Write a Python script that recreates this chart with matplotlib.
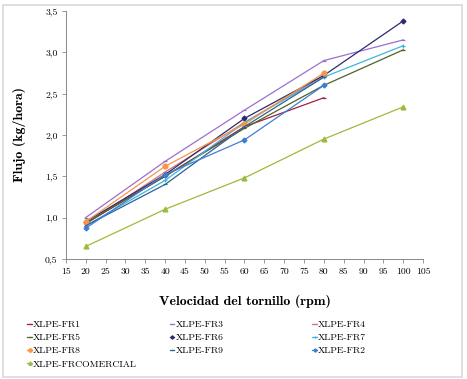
import matplotlib
matplotlib.use("Agg")
import matplotlib.pyplot as plt
from matplotlib.patches import Rectangle

# datos
rpm = [20, 40, 60, 80, 100]
fr1 = [0.93, 1.50, 2.10, 2.45]
fr3 = [1.00, 1.68, 2.30, 2.90, 3.15]
fr4 = [0.92, 1.55, 2.15, 2.72]
fr5 = [0.93, 1.50, 2.08, 2.60, 3.03]
fr6 = [0.95, 1.52, 2.20, 2.72, 3.38]
fr7 = [0.90, 1.45, 2.15, 2.70, 3.08]
fr8 = [0.95, 1.62, 2.13, 2.75]
fr9 = [0.90, 1.40, 2.10, 2.70]
fr2 = [0.87, 1.52, 1.94, 2.60]
comercial = [0.65, 1.10, 1.48, 1.95, 2.34]

series = [
    ("XLPE-FR1", fr1, "#a0213a", "_"),
    ("XLPE-FR3", fr3, "#9b6fcf", "_"),
    ("XLPE-FR4", fr4, "#d9707a", "_"),
    ("XLPE-FR5", fr5, "#4f6228", "_"),
    ("XLPE-FR6", fr6, "#2e2a6e", "D"),
    ("XLPE-FR7", fr7, "#3fb6d8", "+"),
    ("XLPE-FR8", fr8, "#f79646", "o"),
    ("XLPE-FR9", fr9, "#30609a", "_"),
    ("XLPE-FR2", fr2, "#3d7fd6", "D"),
    ("XLPE-FRCOMERCIAL", comercial, "#9bbb3b", "^"),
]

fig = plt.figure(figsize=(4.67, 3.79), dpi=100)
fig.patches.append(Rectangle((0.006, 0.005), 0.984, 0.982, transform=fig.transFigure,
                             fill=False, edgecolor="#d9d9d9", lw=1.2))
ax = fig.add_axes([0.141, 0.317, 0.765, 0.654])

lines = []
for name, vals, col, mk in series:
    ms = {"o": 3.5, "^": 3.5, "D": 2.5}.get(mk, 3)
    l, = ax.plot(rpm[:len(vals)], vals, color=col, lw=0.9, marker=mk, ms=ms,
                 markeredgewidth=0.9, label=name)
    lines.append(l)

ax.set_xlim(15, 105)
ax.set_ylim(0.5, 3.5)
xt = list(range(15, 110, 5))
ax.set_xticks(xt)
ax.set_xticklabels([str(v) for v in xt], fontfamily="cmr10", fontsize=7)
yt = [0.5, 1.0, 1.5, 2.0, 2.5, 3.0, 3.5]
ax.set_yticks(yt)
ax.set_yticklabels([("%.1f" % v).replace(".", ",") for v in yt], fontfamily="cmr10", fontsize=7)
ax.tick_params(length=3, width=0.6, color="#888888", pad=3)
for s in ["top", "right"]:
    ax.spines[s].set_visible(False)
for s in ["left", "bottom"]:
    ax.spines[s].set_color("#888888")
    ax.spines[s].set_linewidth(0.7)

ax.set_xlabel("Velocidad del tornillo (rpm)", fontfamily="cmb10", fontsize=10, labelpad=14)
ax.set_ylabel("Flujo (kg/hora)", fontfamily="cmb10", fontsize=10, labelpad=14)

# leyenda en tres columnas, orden por filas como en el original
cols = [[0, 3, 6, 9], [1, 4, 7], [2, 5, 8]]
xpos = [0.058, 0.363, 0.669]
for idx, x0 in zip(cols, xpos):
    fig.legend([lines[i] for i in idx], [series[i][0] for i in idx],
               loc="upper left", bbox_to_anchor=(x0, 0.155), frameon=False,
               prop={"family": "cmr10", "size": 7}, handlelength=0.5, handletextpad=0.1,
               labelspacing=0.45, borderaxespad=0, borderpad=0, markerscale=0.7)

plt.savefig("out.png", dpi=100)
